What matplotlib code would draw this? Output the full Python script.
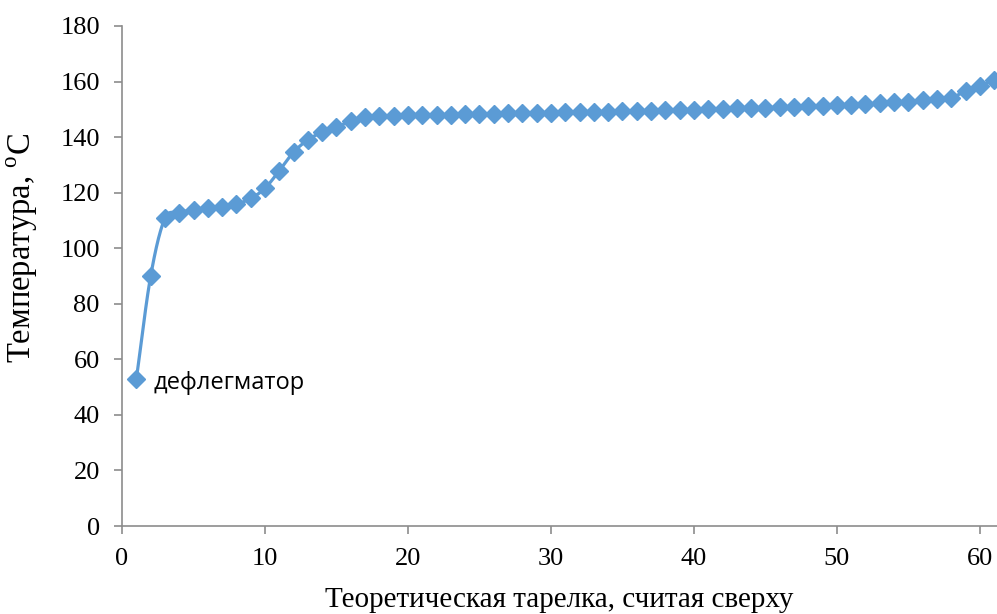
import numpy as np
import matplotlib.pyplot as plt

# DATA
PLATES = list(range(1, 62))
TEMPS = [52.8, 89.9, 110.7, 112.7, 113.9, 114.5, 115.0, 115.9, 117.9, 121.6,
         127.9, 134.6, 139.0, 141.8, 143.6, 145.7, 147.1, 147.5, 147.7, 147.8,
         147.9, 148.0, 148.1, 148.2, 148.3, 148.4, 148.5, 148.6, 148.7, 148.8,
         148.9, 149.0, 149.1, 149.2, 149.3, 149.4, 149.5, 149.6, 149.7, 149.8,
         150.0, 150.1, 150.3, 150.4, 150.6, 150.7, 150.9, 151.1, 151.3, 151.5,
         151.7, 151.9, 152.2, 152.5, 152.8, 153.2, 153.6, 154.2, 156.5, 158.4,
         160.6]
X_TICKS = [0, 10, 20, 30, 40, 50, 60]
Y_TICKS = [0, 20, 40, 60, 80, 100, 120, 140, 160, 180]

BLUE = '#5B9BD5'
GRAY = '#8C8C8C'


# smooth line through points (catmull-rom, like excel "smoothed line")
def smooth(x, y, n=20):
	x = np.asarray(x, float)
	y = np.asarray(y, float)
	px = np.concatenate([[2 * x[0] - x[1]], x, [2 * x[-1] - x[-2]]])
	py = np.concatenate([[2 * y[0] - y[1]], y, [2 * y[-1] - y[-2]]])
	xs, ys = [], []
	t = np.linspace(0, 1, n, endpoint=False)
	for i in range(1, len(px) - 2):
		for p, out in ((px, xs), (py, ys)):
			p0, p1, p2, p3 = p[i - 1], p[i], p[i + 1], p[i + 2]
			out.append(0.5 * ((2 * p1) + (-p0 + p2) * t
			                  + (2 * p0 - 5 * p1 + 4 * p2 - p3) * t ** 2
			                  + (-p0 + 3 * p1 - 3 * p2 + p3) * t ** 3))
	xs.append([x[-1]])
	ys.append([y[-1]])
	return np.concatenate(xs), np.concatenate(ys)


fig = plt.figure(figsize=(9.97, 6.14), dpi=100)
ax = fig.add_axes([0.1224, 0.1433, 0.8776, 0.8144])

sx, sy = smooth(PLATES, TEMPS)
ax.plot(sx, sy, color=BLUE, lw=2.3, zorder=2)
ax.plot(PLATES, TEMPS, ls='none', marker='D', ms=9, color=BLUE, zorder=3)

ax.text(2.2, 51.4, 'дефлегматор', fontsize=17, family='Open Sans',
        va='center', ha='left')

ax.set_xlim(0, 61.2)
ax.set_ylim(0, 180)
ax.set_xticks(X_TICKS)
ax.set_yticks(Y_TICKS)

for s in ('top', 'right'):
	ax.spines[s].set_visible(False)
for s in ('left', 'bottom'):
	ax.spines[s].set_color(GRAY)
	ax.spines[s].set_linewidth(1.2)

ax.tick_params(direction='out', length=6, width=1.2, color=GRAY,
               labelsize=19, pad=10)
for lab in ax.get_xticklabels() + ax.get_yticklabels():
	lab.set_family('Liberation Serif')

ax.set_xlabel('Теоретическая тарелка, считая сверху', family='Liberation Serif',
              fontsize=21, labelpad=12)
ax.set_ylabel('Температура, $^{\\mathregular{o}}$C', family='Liberation Serif',
              fontsize=23.5)
ax.yaxis.set_label_coords(-0.094, 0.556)

fig.savefig('out.png', dpi=100)
